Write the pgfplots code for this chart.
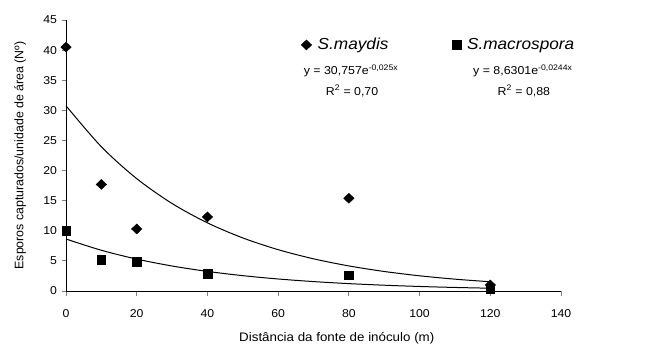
\documentclass[border=0pt]{standalone}
\usepackage{pgfplots}
\pgfplotsset{compat=1.18}
\usepackage{fontspec}
\setmainfont{Liberation Sans}[FakeStretch=1.08]
\newfontfamily\plainf{Liberation Sans}
\usetikzlibrary{calc}
\begin{document}
\begin{tikzpicture}
\begin{axis}[
  name=ax,
  scale only axis,
  width=495bp, height=271bp,
  xmin=0, xmax=140, ymin=0, ymax=45,
  axis lines=left,
  axis line style={-, line width=0.8pt},
  xtick={0,20,...,140}, ytick={0,5,...,45},
  tick style={line width=0.8pt},
  tick align=outside,
  major tick length=4.5bp,
  xtick pos=bottom, ytick pos=left,
  /pgf/number format/assume math mode=true,
  tick label style={font=\fontsize{11.4}{13}\selectfont},
  xticklabel style={yshift=-11bp},
  yticklabel style={xshift=-1bp},
  xlabel={Distância da fonte de inóculo (m)},
  ylabel={Esporos capturados/unidade de área (Nº)},
  every axis x label/.style={at={(axis description cs:0.547,-0.1734)}, anchor=center,
    font=\fontsize{12.4}{14}\selectfont},
  every axis y label/.style={at={(axis description cs:-0.0929,0.5)}, anchor=center, rotate=90,
    font=\plainf\fontsize{12.4}{14}\selectfont},
  clip=false,
  legend columns=2,
  legend style={draw=none, fill=none, at={(0.4747,0.908)}, anchor=west, inner sep=0pt,
    font=\fontsize{16}{18}\selectfont\itshape,
    /tikz/every odd column/.append style={column sep=4bp},
    /tikz/every even column/.append style={column sep=62bp}},
  legend cell align=left,
]
\addplot[only marks, mark=diamond*, mark size=5bp, mark options={xscale=1.4}, black] coordinates {
 (0,40.5) (10,17.7) (20,10.3) (40,12.3) (80,15.4) (120,1.0)};
\addlegendentry{S.maydis}
\addplot[only marks, mark=square*, mark size=4.3bp, black] coordinates {
 (0,10.0) (10,5.2) (20,4.9) (40,2.9) (80,2.6) (120,0.35)};
\addlegendentry{S.macrospora}
\addplot[black, line width=1pt, smooth, forget plot] coordinates {
 (0,30.757) (10,23.953) (20,18.655) (30,14.529) (40,11.315) (50,8.812) (60,6.863)
 (70,5.345) (80,4.163) (90,3.242) (100,2.525) (110,1.966) (120,1.531)};
\addplot[black, line width=1pt, smooth, forget plot] coordinates {
 (0,8.630) (10,6.762) (20,5.298) (30,4.151) (40,3.252) (50,2.548) (60,1.996)
 (70,1.564) (80,1.225) (90,0.960) (100,0.752) (110,0.589) (120,0.462)};
\node[font=\fontsize{11.5}{13}\selectfont] at (axis cs:80.6,36.5) {y = 30,757e\textsuperscript{-0,025x}};
\node[font=\fontsize{11.5}{13}\selectfont] at (axis cs:80.9,33.2) {R\textsuperscript{2} = 0,70};
\node[font=\fontsize{11.5}{13}\selectfont] at (axis cs:129.2,36.5) {y = 8,6301e\textsuperscript{-0,0244x}};
\node[font=\fontsize{11.5}{13}\selectfont] at (axis cs:129.5,33.2) {R\textsuperscript{2} = 0,88};
\end{axis}
\path ($(ax.south west)+(-66bp,-57bp)$) rectangle ($(ax.north east)+(95bp,20bp)$);
\end{tikzpicture}
\end{document}
